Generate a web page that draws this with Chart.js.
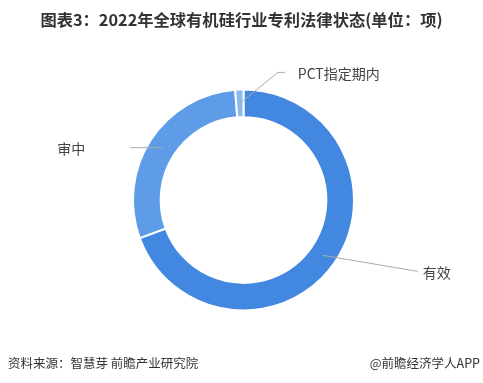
<!DOCTYPE html>
<html>
<head>
<meta charset="utf-8">
<script src="https://cdn.jsdelivr.net/npm/chart.js@4"></script>
<style>
  body { margin: 0; width: 483px; height: 383px; background: #fff; position: relative; overflow: hidden;
         font-family: "Noto Sans CJK SC", "Noto Sans", sans-serif; }
  #title { position: absolute; top: 7px; left: 0; width: 483px; text-align: center;
           font-size: 16.3px; font-weight: bold; color: #333; }
  #src { position: absolute; left: 8px; top: 353px; font-size: 12.5px; color: #333; }
  #brand { position: absolute; right: 3px; top: 353px; font-size: 12.5px; color: #333; }
  #wrap { position: absolute; left: 0; top: 0; width: 483px; height: 383px; }
</style>
</head>
<body>
<div id="wrap"><canvas id="statusChart" width="483" height="383"></canvas></div>
<div id="title">图表3：2022年全球有机硅行业专利法律状态(单位：项)</div>
<div id="src">资料来源：智慧芽 前瞻产业研究院</div>
<div id="brand">@前瞻经济学人APP</div>
<script>
var labels = ['有效', '审中', 'PCT指定期内'];
var values = [69.4, 29.4, 1.2];
var colors = ['#4287e0', '#5e9ce8', '#8ab8f0'];

// leader line layout per slice: elbow offset, end offset, text side
var leaders = [
    { elbow: [95, 16], run: 0, gap: 5, align: 'left' },
    { elbow: [-32, 0], run: 0, gap: 45, align: 'right' },
    { elbow: [38, -31], run: 7, gap: 13, align: 'left' }
];

var leaderPlugin = {
    id: 'leaders',
    afterDatasetsDraw: function(chart) {
        var ctx = chart.ctx;
        var arcs = chart.getDatasetMeta(0).data;
        ctx.save();
        ctx.strokeStyle = '#aaaaaa';
        ctx.lineWidth = 1;
        ctx.fillStyle = '#444';
        ctx.font = '14px "Noto Sans CJK SC", "Noto Sans", sans-serif';
        ctx.textBaseline = 'middle';
        arcs.forEach(function(arc, i) {
            var p = arc.getProps(['x', 'y', 'startAngle', 'endAngle', 'innerRadius', 'outerRadius'], true);
            var mid = (p.startAngle + p.endAngle) / 2;
            var r = (p.innerRadius + p.outerRadius) / 2;
            var ax = p.x + Math.cos(mid) * r;
            var ay = p.y + Math.sin(mid) * r;
            var L = leaders[i];
            var ex = ax + L.elbow[0], ey = ay + L.elbow[1];
            var dir = L.align === 'left' ? 1 : -1;
            var fx = ex + dir * L.run;
            ctx.beginPath();
            ctx.moveTo(ax, ay);
            ctx.lineTo(ex, ey);
            ctx.lineTo(fx, ey);
            ctx.stroke();
            ctx.textAlign = L.align;
            ctx.fillText(labels[i], fx + dir * L.gap, ey + 1);
        });
        ctx.restore();
    }
};

var ctx = document.getElementById('statusChart').getContext('2d');
var myChart = new Chart(ctx, {
    type: 'doughnut',
    data: {
        labels: labels,
        datasets: [{
            data: values,
            backgroundColor: colors,
            borderColor: '#ffffff',
            borderWidth: 2
        }]
    },
    options: {
        responsive: false,
        animation: false,
        cutout: '75%',
        layout: { padding: { left: 131.5, right: 127.5, top: 88.5, bottom: 71.5 } },
        plugins: { legend: { display: false }, tooltip: { enabled: false } }
    },
    plugins: [leaderPlugin]
});
</script>
</body>
</html>
